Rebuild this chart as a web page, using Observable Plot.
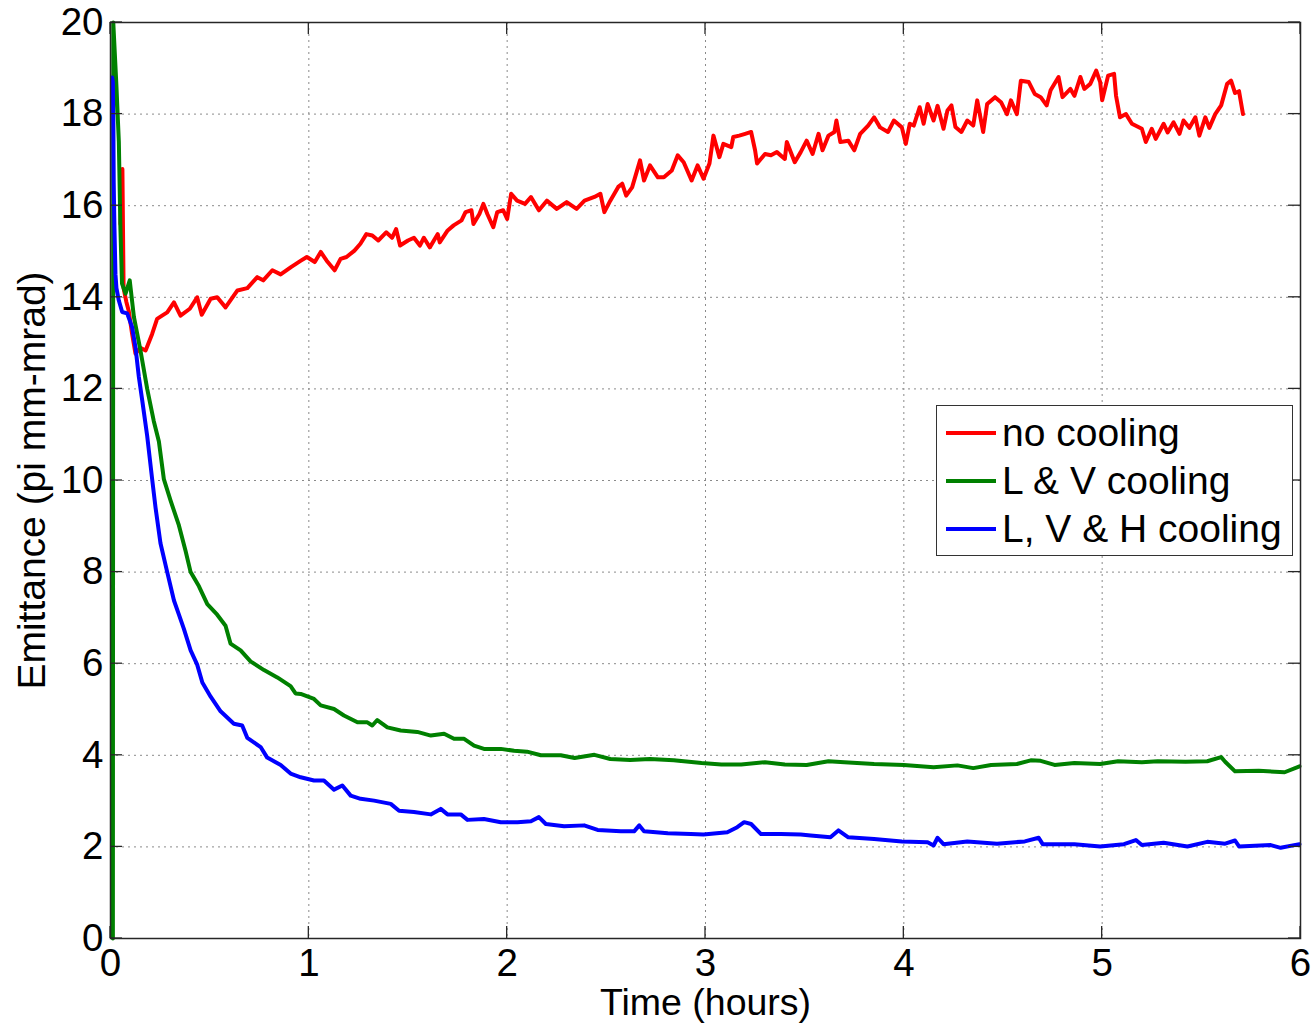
<!DOCTYPE html>
<html><head><meta charset="utf-8">
<script src="https://cdn.jsdelivr.net/npm/d3@7"></script>
<script src="https://cdn.jsdelivr.net/npm/@observablehq/plot@0.6"></script>
<style>
body{margin:0;background:#fff;}
#wrap{position:relative;width:1316px;height:1024px;font-family:"Liberation Sans",Arial,sans-serif;}
#legend{position:absolute;left:936px;top:405px;width:357px;height:151px;box-sizing:border-box;border:1.5px solid #333;background:#fff;padding-top:3px}
.row{display:flex;align-items:center;height:48px;font-size:39px;color:#000;white-space:nowrap}
.sw{width:50px;height:4px;margin-left:9px;margin-right:6px;flex:none}
</style></head><body><div id="wrap"></div>
<script>
// ---- data ----
const xTicks = [0, 1, 2, 3, 4, 5, 6];
const yTicks = [0, 2, 4, 6, 8, 10, 12, 14, 16, 18, 20];
const seriesNames = ["no cooling", "L & V cooling", "L, V & H cooling"];
const seriesColors = ["#ff0000", "#008000", "#0000ff"];

const tRed = [0.05,0.06,0.066,0.08,0.092,0.109,0.126,0.15,0.177,0.21,0.235,0.26,0.286,0.32,0.353,0.40,0.437,0.46,0.505,0.538,0.58,0.64,0.69,0.74,0.77,0.816,0.858,0.91,0.96,0.99,1.03,1.06,1.09,1.13,1.16,1.19,1.23,1.26,1.29,1.32,1.35,1.39,1.42,1.44,1.46,1.50,1.53,1.56,1.58,1.61,1.65,1.66,1.70,1.73,1.77,1.79,1.82,1.83,1.86,1.88,1.90,1.93,1.95,1.98,2.00,2.02,2.05,2.09,2.12,2.16,2.20,2.25,2.30,2.35,2.39,2.44,2.47,2.49,2.52,2.56,2.58,2.60,2.63,2.67,2.69,2.72,2.76,2.79,2.83,2.86,2.89,2.93,2.96,2.99,3.02,3.04,3.07,3.09,3.13,3.14,3.17,3.20,3.23,3.25,3.26,3.30,3.33,3.36,3.40,3.41,3.45,3.48,3.51,3.54,3.57,3.59,3.62,3.65,3.66,3.68,3.72,3.75,3.78,3.82,3.85,3.88,3.92,3.95,3.99,4.01,4.03,4.05,4.08,4.10,4.12,4.15,4.17,4.20,4.22,4.24,4.26,4.29,4.32,4.35,4.37,4.40,4.42,4.46,4.49,4.52,4.54,4.57,4.59,4.63,4.66,4.69,4.72,4.74,4.78,4.80,4.84,4.86,4.89,4.91,4.94,4.97,4.99,5.00,5.03,5.06,5.07,5.09,5.12,5.15,5.20,5.22,5.25,5.27,5.31,5.33,5.36,5.39,5.41,5.44,5.47,5.49,5.52,5.54,5.57,5.60,5.63,5.65,5.67,5.69,5.71];
const eRed = [15.6,16.8,14.2,13.9,13.7,13.2,12.77,12.9,12.84,13.2,13.53,13.6,13.67,13.89,13.6,13.75,14.0,13.62,13.97,14.0,13.78,14.15,14.2,14.44,14.37,14.59,14.5,14.66,14.8,14.88,14.77,14.99,14.80,14.59,14.84,14.88,15.02,15.17,15.38,15.35,15.24,15.42,15.3,15.49,15.13,15.24,15.30,15.13,15.3,15.09,15.38,15.2,15.46,15.57,15.68,15.86,15.90,15.60,15.82,16.04,15.82,15.53,15.86,15.9,15.71,16.26,16.11,16.04,16.19,15.90,16.11,15.93,16.08,15.93,16.11,16.19,16.26,15.86,16.11,16.41,16.48,16.22,16.40,16.99,16.55,16.88,16.62,16.62,16.77,17.10,16.95,16.55,16.88,16.59,16.92,17.53,17.06,17.35,17.28,17.50,17.53,17.57,17.61,17.21,16.92,17.13,17.10,17.17,17.02,17.39,16.95,17.17,17.42,17.13,17.57,17.21,17.53,17.61,17.86,17.39,17.42,17.21,17.57,17.75,17.93,17.71,17.61,17.86,17.71,17.35,17.79,17.75,18.15,17.79,18.22,17.86,18.18,17.68,18.08,18.19,17.72,17.61,17.86,17.75,18.30,17.61,18.22,18.37,18.26,18.0,18.3,18.0,18.73,18.7,18.44,18.37,18.19,18.52,18.81,18.37,18.55,18.4,18.81,18.55,18.66,18.95,18.7,18.30,18.84,18.88,18.4,17.93,18.0,17.79,17.68,17.39,17.68,17.46,17.79,17.6,17.82,17.57,17.86,17.7,17.93,17.53,17.93,17.7,18.0,18.19,18.66,18.73,18.46,18.5,18.0];

const tGreen = [0.012,0.014,0.03,0.042,0.05,0.058,0.076,0.097,0.118,0.151,0.185,0.218,0.244,0.269,0.303,0.345,0.378,0.404,0.446,0.488,0.538,0.58,0.605,0.656,0.706,0.774,0.841,0.908,0.933,0.959,1.026,1.06,1.127,1.177,1.245,1.295,1.32,1.345,1.396,1.463,1.547,1.615,1.682,1.732,1.783,1.833,1.883,1.968,2.035,2.10,2.17,2.27,2.34,2.44,2.52,2.62,2.72,2.84,2.98,3.08,3.18,3.30,3.40,3.51,3.62,3.70,3.85,4.0,4.15,4.27,4.35,4.44,4.57,4.64,4.69,4.76,4.86,4.99,5.08,5.20,5.28,5.42,5.53,5.60,5.62,5.67,5.79,5.92,5.995];
const eGreen = [0,20,18.6,17.4,15.5,14.3,14.08,14.37,13.57,12.84,12.0,11.3,10.85,10.03,9.56,9.02,8.47,8.0,7.69,7.3,7.07,6.83,6.44,6.29,6.05,5.86,5.70,5.51,5.35,5.34,5.23,5.09,5.01,4.87,4.72,4.72,4.65,4.77,4.61,4.54,4.51,4.43,4.47,4.36,4.36,4.21,4.14,4.14,4.10,4.08,4.0,4.0,3.94,4.01,3.92,3.90,3.92,3.89,3.83,3.80,3.80,3.85,3.80,3.79,3.87,3.85,3.81,3.79,3.74,3.78,3.72,3.79,3.81,3.89,3.88,3.79,3.83,3.81,3.87,3.85,3.87,3.86,3.87,3.96,3.86,3.65,3.66,3.63,3.76];

const tBlue = [0.008,0.012,0.016,0.02,0.025,0.03,0.042,0.059,0.084,0.109,0.126,0.143,0.16,0.185,0.21,0.227,0.252,0.286,0.32,0.345,0.37,0.404,0.437,0.463,0.505,0.555,0.622,0.664,0.69,0.757,0.79,0.858,0.908,0.959,1.026,1.076,1.127,1.169,1.211,1.261,1.329,1.413,1.455,1.53,1.615,1.665,1.699,1.766,1.80,1.883,1.968,2.052,2.12,2.16,2.195,2.287,2.388,2.456,2.573,2.64,2.666,2.69,2.81,2.926,2.99,3.11,3.16,3.195,3.23,3.28,3.38,3.48,3.53,3.63,3.67,3.72,3.85,3.99,4.12,4.15,4.17,4.20,4.32,4.47,4.61,4.68,4.70,4.86,4.99,5.11,5.17,5.20,5.31,5.43,5.53,5.62,5.67,5.69,5.85,5.90,5.995];
const eBlue = [18.8,18.7,16.5,15.5,14.5,14.2,13.93,13.68,13.65,13.35,12.91,12.26,11.75,10.97,10.03,9.41,8.63,8.0,7.38,7.07,6.76,6.29,5.98,5.59,5.28,4.96,4.69,4.65,4.38,4.18,3.95,3.79,3.6,3.52,3.45,3.45,3.25,3.34,3.12,3.05,3.01,2.94,2.79,2.76,2.71,2.83,2.71,2.71,2.59,2.61,2.54,2.54,2.56,2.65,2.50,2.45,2.47,2.37,2.34,2.34,2.47,2.34,2.30,2.28,2.27,2.32,2.43,2.54,2.50,2.28,2.28,2.27,2.25,2.21,2.36,2.21,2.17,2.12,2.10,2.03,2.20,2.06,2.12,2.07,2.12,2.20,2.06,2.06,2.01,2.06,2.15,2.04,2.09,2.01,2.11,2.07,2.14,2.01,2.04,1.98,2.06];

// ---- build ----
const toRows = (ts, es) => ts.map((t, i) => ({t, e: es[i]}));
const series = [toRows(tRed, eRed), toRows(tGreen, eGreen), toRows(tBlue, eBlue)];

const TICK = 12;
const innerTicks = (index, scales, values, dims) => {
  const {x, y} = scales;
  const L = dims.marginLeft, R = dims.width - dims.marginRight;
  const T = dims.marginTop, B = dims.height - dims.marginBottom;
  const g = d3.create("svg:g").attr("stroke", "#262626").attr("stroke-width", 1.3);
  for (const v of xTicks) {
    const px = x(v);
    g.append("line").attr("x1", px).attr("x2", px).attr("y1", B).attr("y2", B - TICK);
    g.append("line").attr("x1", px).attr("x2", px).attr("y1", T).attr("y2", T + TICK);
  }
  for (const v of yTicks) {
    const py = y(v);
    g.append("line").attr("y1", py).attr("y2", py).attr("x1", L).attr("x2", L + TICK);
    g.append("line").attr("y1", py).attr("y2", py).attr("x1", R).attr("x2", R - TICK);
  }
  return g.node();
};

const gridStyle = {stroke: "#8a8a8a", strokeOpacity: 1, strokeWidth: 1, strokeDasharray: "2,4"};

const chart = Plot.plot({
  width: 1316, height: 1024,
  marginLeft: 110, marginRight: 16, marginTop: 22, marginBottom: 86,
  style: {fontFamily: "'Liberation Sans', Arial, sans-serif", color: "#000", background: "#fff", overflow: "visible"},
  x: {domain: [0, 6]},
  y: {domain: [0, 20]},
  marks: [
    Plot.gridX(xTicks, gridStyle),
    Plot.gridY(yTicks, gridStyle),
    ...series.map((rows, i) => Plot.line(rows, {x: "t", y: "e", stroke: seriesColors[i], strokeWidth: 4, strokeLinejoin: "round"})),
    Plot.frame({stroke: "#262626", strokeWidth: 1.5}),
    innerTicks,
    Plot.axisX(xTicks, {tickSize: 0, tickPadding: 10, fontSize: 38.5, label: null, tickFormat: d => String(d)}),
    Plot.axisY(yTicks, {tickSize: 0, tickPadding: 7, fontSize: 38.5, label: null, tickFormat: d => String(d)}),
    Plot.text(["Time (hours)"], {text: d => d, frameAnchor: "bottom", textAnchor: "middle", dy: 64, fontSize: 37.5, lineAnchor: "middle", fill: "#000"}),
    Plot.text(["Emittance (pi mm-mrad)"], {text: d => d, frameAnchor: "left", textAnchor: "middle", dx: -78, rotate: -90, fontSize: 39, lineAnchor: "middle", fill: "#000"})
  ]
});

const wrap = document.getElementById("wrap");
wrap.appendChild(chart);

const legend = document.createElement("div");
legend.id = "legend";
seriesNames.forEach((name, i) => {
  const row = document.createElement("div");
  row.className = "row";
  const sw = document.createElement("span");
  sw.className = "sw";
  sw.style.background = seriesColors[i];
  const label = document.createElement("span");
  label.textContent = name;
  row.appendChild(sw);
  row.appendChild(label);
  legend.appendChild(row);
});
wrap.appendChild(legend);
</script>
</body></html>
